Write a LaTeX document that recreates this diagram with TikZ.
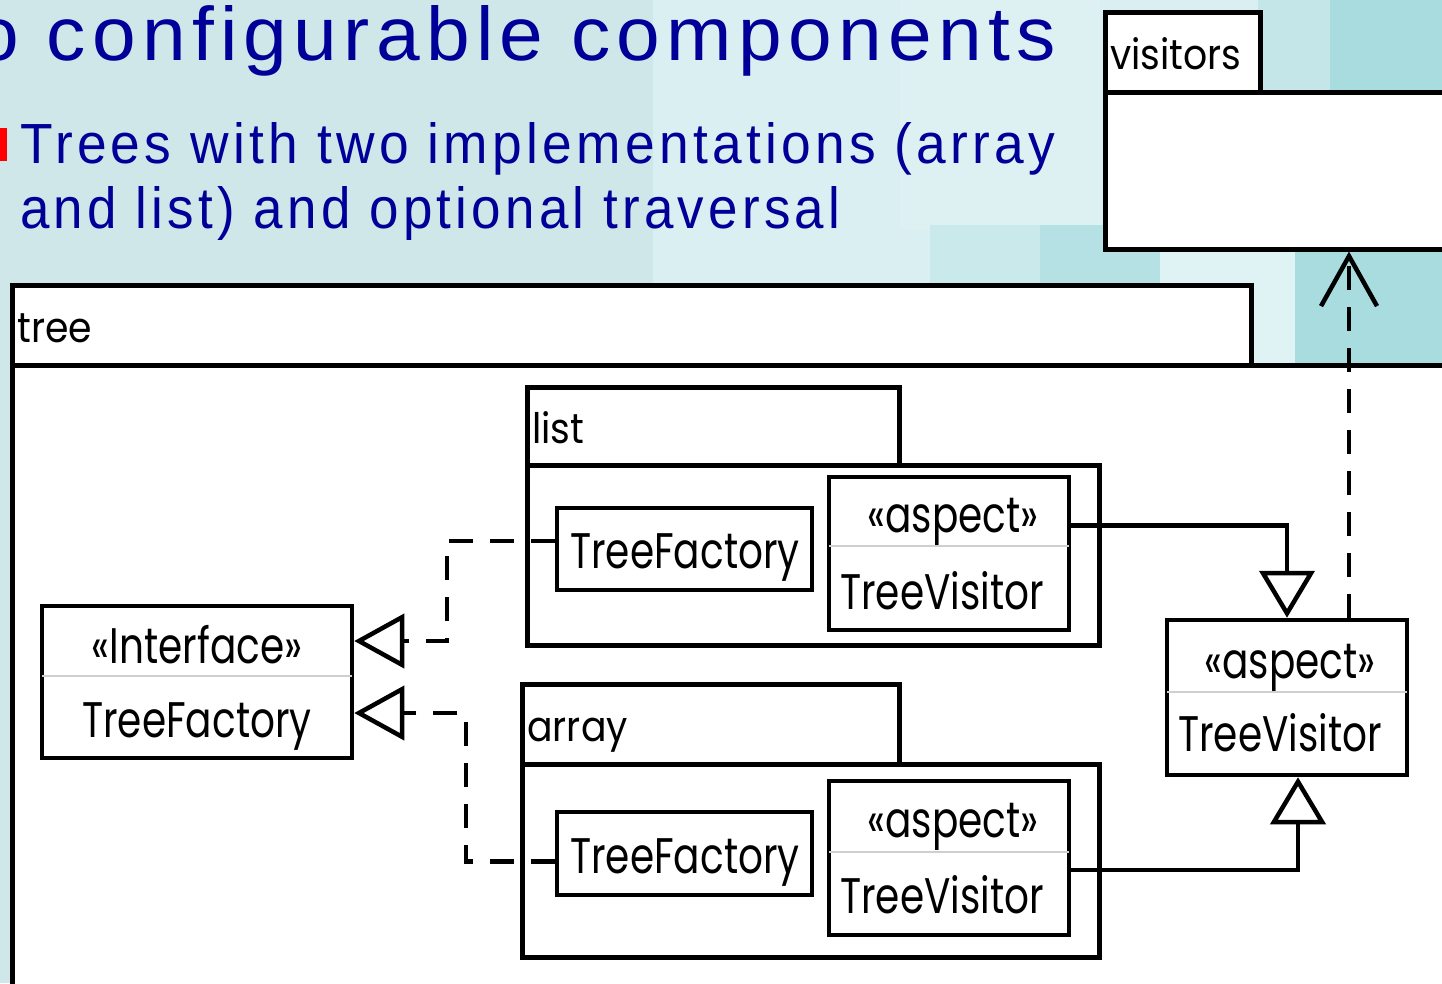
\documentclass[tikz,border=0pt]{standalone}
\usepackage{fontspec,graphicx}
\setmainfont{Liberation Sans}
\newfontfamily\umlfont{Poppins}[FakeStretch=0.78]
\newfontfamily\tabfont{Poppins}[FakeStretch=0.9]
\newfontfamily\slidefont{Liberation Sans}[LetterSpace=8]
\usetikzlibrary{arrows.meta}

\definecolor{bgleft}{HTML}{D0E7E9}
\definecolor{bgmid}{HTML}{DAEFF1}
\definecolor{bgteal}{HTML}{A9DCDF}
\definecolor{bgpale}{HTML}{C4E6E8}
\definecolor{bglight}{HTML}{DDF1F3}
\definecolor{bgsoft}{HTML}{C9E9EB}
\definecolor{bgdeep}{HTML}{B6E1E4}
\definecolor{bgwhite}{HTML}{E0F3F4}
\definecolor{titleblue}{HTML}{000099}
\definecolor{splitgray}{HTML}{CFCFCF}

\begin{document}
\begin{tikzpicture}[x=1pt,y=-1pt,
    tab/.style={draw,fill=white,line width=4.5pt,anchor=north west,inner xsep=5pt,
                inner ysep=0pt,align=left,text height=36pt,text depth=2pt,
                font=\tabfont\fontsize{42}{46}\selectfont},
    body/.style={draw,fill=white,line width=4.5pt,anchor=north west,inner sep=0pt},
    cls/.style={draw,fill=white,line width=4.5pt,inner sep=0pt},
    lbl/.style={anchor=base,inner sep=0pt,font=\umlfont\fontsize{50}{56}\selectfont},
    divider/.style={draw=splitgray,line width=1.5pt,shorten >=2pt,shorten <=2pt},
    realize/.style={line width=4.5pt,dash pattern=on 24pt off 17pt,
                    -{Triangle[open,length=50pt,width=54pt]}},
    general/.style={line width=4.5pt,-{Triangle[open,length=47pt,width=55pt]}},
    depend/.style={line width=4.5pt,dash pattern=on 24pt off 17pt,
                   -{Straight Barb[length=50pt,width=56pt]}}]
  \useasboundingbox (0,0) rectangle (1442,983);
  \clip (0,0) rectangle (1442,983);

  % slide background
  \fill[bgleft] (0,0) rectangle (1442,983);
  \fill[bgmid] (653,0) rectangle (1442,363);
  \foreach \x/\y/\w/\h/\c in {900/0/200/230/bglight, 930/225/110/58/bgsoft,
      1040/225/63/58/bgdeep, 1258/0/72/90/bgpale, 1330/0/112/90/bgteal,
      1100/247/60/36/bgdeep, 1160/247/90/36/bgwhite, 1250/247/45/116/bgwhite,
      1295/247/147/116/bgteal}
    \fill[\c] (\x,\y) rectangle ++(\w,\h);

  % slide text
  \node[anchor=base west,inner sep=0pt,text=titleblue] (title) at (-25,60)
    {\resizebox{1080pt}{55pt}{\slidefont o configurable components}};
  \fill[red] (-2,128) rectangle (7,161);
  \node[anchor=base west,inner sep=0pt,text=titleblue] (line1) at (20,163)
    {\resizebox{1035pt}{41pt}{\slidefont Trees with two implementations (array}};
  \node[anchor=base west,inner sep=0pt,text=titleblue] (line2) at (20,228)
    {\resizebox{820pt}{42pt}{\slidefont and list) and optional traversal}};

  % packages
  \node[body,minimum width=400pt,minimum height=157pt] (vbody) at (1103,90) {};
  \node[tab,text width=145pt,minimum height=80pt] (vtab) at (1103,10) {visitors};
  \node[body,minimum width=1500pt,minimum height=700pt] (tbody) at (10,363) {};
  \node[tab,text width=1229pt,minimum height=80pt] (ttab) at (10,283) {tree};
  \node[body,minimum width=572pt,minimum height=180pt] (lbody) at (525,463) {};
  \node[tab,text width=362pt,minimum height=78pt] (ltab) at (525,385) {list};
  \node[body,minimum width=577pt,minimum height=193pt] (abody) at (520,762) {};
  \node[tab,text width=367pt,minimum height=80pt] (atab) at (520,682) {array};

  % interface
  \node[cls,minimum width=310pt,minimum height=152pt] (ifc) at (197,682) {};
  \draw[divider] (ifc.west |- 0,676) -- (ifc.east |- 0,676);
  \node[lbl] (ifcst) at (197,663) {«Interface»};
  \node[lbl] (ifcnm) at (197,737) {TreeFactory};

  % list implementation
  \node[cls,minimum width=255pt,minimum height=82pt] (lfac) at (684.5,549) {};
  \node[lbl] (lfacnm) at (685,568) {TreeFactory};
  \node[cls,minimum width=240pt,minimum height=153pt] (lasp) at (949,553.5) {};
  \draw[divider] (lasp.west |- 0,546) -- (lasp.east |- 0,546);
  \node[lbl] (laspst) at (953,532) {«aspect»};
  \node[lbl] (laspnm) at (942,609) {TreeVisitor};

  % array implementation
  \node[cls,minimum width=255pt,minimum height=83pt] (afac) at (684.5,853.5) {};
  \node[lbl] (afacnm) at (685,873) {TreeFactory};
  \node[cls,minimum width=240pt,minimum height=154pt] (aasp) at (949,858) {};
  \draw[divider] (aasp.west |- 0,852) -- (aasp.east |- 0,852);
  \node[lbl] (aaspst) at (953,837) {«aspect»};
  \node[lbl] (aaspnm) at (942,913) {TreeVisitor};

  % abstract aspect
  \node[cls,minimum width=240pt,minimum height=155pt] (rasp) at (1287,697.5) {};
  \draw[divider] (rasp.west |- 0,692) -- (rasp.east |- 0,692);
  \node[lbl] (raspst) at (1290,678) {«aspect»};
  \node[lbl] (raspnm) at (1280,751) {TreeVisitor};

  % relations
  \draw[realize] ([yshift=8pt]lfac.west) -- ++(-108,0) |- ([yshift=41pt]ifc.east);
  \draw[realize] ([yshift=-8pt]afac.west) -- ++(-89,0) |- ([yshift=-31pt]ifc.east);
  \draw[general] ([yshift=28pt]lasp.east) -| (rasp.north);
  \draw[general] ([yshift=-12pt]aasp.east) -| ([xshift=11pt]rasp.south);
  \coordinate (dtail) at ([xshift=62pt]rasp.north);
  \draw[depend] (dtail) -- (dtail |- vbody.south);
\end{tikzpicture}
\end{document}
